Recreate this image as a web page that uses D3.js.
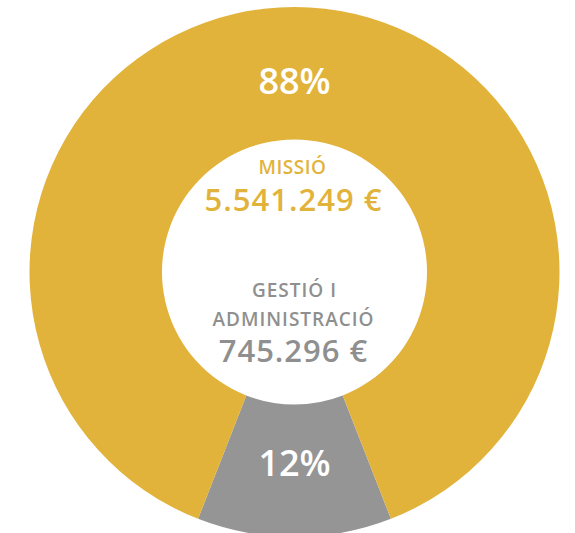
<!DOCTYPE html>
<html>
<head>
<meta charset="utf-8">
<script src="https://cdn.jsdelivr.net/npm/d3@7"></script>
<style>
  body { margin: 0; background: #fff; }
  svg { display: block; font-family: "Open Sans", "Noto Sans", sans-serif; }
</style>
</head>
<body>
<svg id="donut"></svg>
<script>
var width = 575,
  height = 533;

// data
var categories = ["GESTIÓ I ADMINISTRACIÓ", "MISSIÓ"];
var amounts = [745296, 5541249];
var amountLabels = ["745.296 €", "5.541.249 €"];
var percentLabels = ["12%", "88%"];
var colors = ["#959595", "#e2b33b"];
var textColors = ["#8f8f8f", "#e2b33b"];

var cx = 294.5,
  cy = 272,
  outerR = 265,
  innerR = 132.5,
  labelR = 191;

var svg = d3.select("#donut").attr("width", width).attr("height", height);

var total = d3.sum(amounts);
var grayAngle = (2 * Math.PI * amounts[0]) / total;

var pie = d3
  .pie()
  .sort(null)
  .value(function (d) {
    return d;
  })
  .startAngle(Math.PI - grayAngle / 2)
  .endAngle(3 * Math.PI - grayAngle / 2);

var arc = d3.arc().innerRadius(innerR).outerRadius(outerR);
var labelArc = d3.arc().innerRadius(labelR).outerRadius(labelR);

var g = svg.append("g").attr("transform", "translate(" + cx + "," + cy + ")");

var slices = pie(amounts);

g.selectAll("path.slice")
  .data(slices)
  .enter()
  .append("path")
  .attr("class", "slice")
  .attr("d", arc)
  .attr("fill", function (d, i) {
    return colors[i];
  });

g.selectAll("text.pct")
  .data(slices)
  .enter()
  .append("text")
  .attr("class", "pct")
  .attr("transform", function (d) {
    return "translate(" + labelArc.centroid(d) + ")";
  })
  .attr("text-anchor", "middle")
  .attr("dy", "0.36em")
  .attr("fill", "#fff")
  .attr("font-size", "36px")
  .attr("font-weight", 600)
  .text(function (d, i) {
    return percentLabels[i];
  });

// centre labels
var center = g.append("g").attr("text-anchor", "middle");

center
  .append("text")
  .attr("x", -2)
  .attr("y", 174 - cy)
  .attr("fill", textColors[1])
  .attr("font-size", "19px")
  .attr("font-weight", 600)
  .attr("letter-spacing", "0.5px")
  .text(categories[1]);

center
  .append("text")
  .attr("x", -1)
  .attr("y", 211 - cy)
  .attr("fill", textColors[1])
  .attr("font-size", "31px")
  .attr("font-weight", 600)
  .attr("letter-spacing", "1px")
  .text(amountLabels[1]);

var words = categories[0].split(" ");
center
  .append("text")
  .attr("x", 0)
  .attr("y", 297 - cy)
  .attr("fill", textColors[0])
  .attr("font-size", "19px")
  .attr("font-weight", 600)
  .attr("letter-spacing", "1px")
  .text(words.slice(0, 2).join(" "));

center
  .append("text")
  .attr("x", -1)
  .attr("y", 326 - cy)
  .attr("fill", textColors[0])
  .attr("font-size", "19px")
  .attr("font-weight", 600)
  .attr("letter-spacing", "1px")
  .text(words.slice(2).join(" "));

center
  .append("text")
  .attr("x", -1)
  .attr("y", 362 - cy)
  .attr("fill", textColors[0])
  .attr("font-size", "31px")
  .attr("font-weight", 600)
  .attr("letter-spacing", "1px")
  .text(amountLabels[0]);
</script>
</body>
</html>
